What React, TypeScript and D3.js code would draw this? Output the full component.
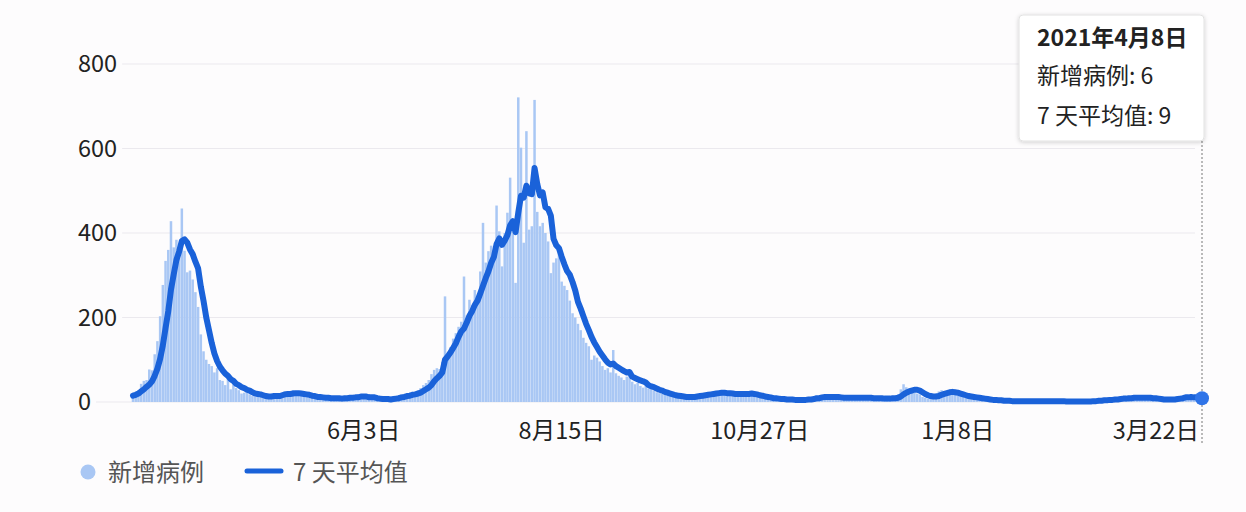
import React, { useEffect, useRef } from 'react';
import * as d3 from 'd3';

// daily new cases, one value per day starting 2020-03-10
const newCases: number[] = [
  20, 21, 27, 43, 50, 52, 77, 75, 113, 144,
  203, 277, 334, 360, 428, 366, 384, 340, 458, 358,
  307, 311, 290, 260, 225, 160, 120, 100, 90, 85,
  70, 80, 52, 50, 40, 55, 30, 42, 33, 28,
  20, 22, 25, 18, 14, 12, 20, 16, 10, 9,
  12, 15, 18, 20, 14, 22, 25, 18, 16, 28,
  22, 17, 14, 16, 12, 10, 15, 12, 8, 11,
  9, 6, 10, 8, 12, 7, 9, 5, 14, 10,
  16, 12, 9, 14, 18, 11, 8, 7, 10, 6,
  5, 8, 4, 6, 9, 7, 12, 10, 16, 18,
  14, 20, 18, 24, 19, 28, 33, 40, 45, 52,
  66, 76, 80, 78, 95, 250, 110, 130, 150, 163,
  178, 190, 297, 205, 242, 230, 265, 250, 309, 424,
  330, 357, 370, 360, 465, 404, 321, 400, 448, 531,
  430, 282, 721, 602, 377, 641, 408, 416, 715, 450,
  416, 424, 400, 380, 305, 330, 340, 370, 285, 275,
  265, 240, 210, 200, 185, 170, 152, 140, 132, 100,
  110, 105, 96, 85, 76, 80, 70, 123, 68, 62,
  58, 52, 60, 75, 48, 42, 45, 38, 34, 40,
  32, 30, 26, 23, 21, 19, 18, 17, 14, 13,
  12, 12, 14, 10, 12, 11, 13, 15, 16, 18,
  20, 17, 22, 19, 24, 21, 23, 25, 20, 18,
  16, 14, 17, 20, 26, 22, 19, 18, 16, 15,
  13, 12, 10, 9, 8, 7, 6, 8, 5, 6,
  7, 5, 4, 6, 5, 4, 7, 5, 6, 8,
  10, 12, 14, 11, 13, 15, 12, 10, 11, 9,
  12, 10, 8, 11, 9, 10, 12, 8, 9, 11,
  10, 8, 9, 7, 10, 8, 9, 7, 8, 10,
  9, 12, 18, 30, 42, 35, 28, 25, 22, 20,
  18, 12, 10, 8, 11, 15, 20, 25, 28, 26,
  22, 24, 20, 18, 15, 14, 12, 10, 9, 12,
  10, 8, 6, 7, 5, 4, 5, 3, 4, 2,
  3, 2, 3, 2, 1, 2, 3, 1, 2, 4,
  3, 2, 1, 2, 3, 1, 2, 3, 2, 1,
  2, 1, 2, 1, 0, 1, 2, 1, 0, 1,
  2, 1, 3, 2, 4, 3, 5, 4, 6, 5,
  7, 8, 6, 9, 10, 8, 11, 9, 10, 12,
  8, 9, 11, 10, 8, 9, 7, 6, 5, 4,
  6, 5, 7, 8, 10, 12, 11, 13, 14, 12,
  10, 8, 7, 9, 6,
];

// 7 天平均值, same days
const avg7: number[] = [
  15, 17, 20, 25, 30, 36, 41, 49, 62, 79,
  102, 134, 175, 215, 266, 302, 336, 356, 381, 385,
  377, 361, 350, 332, 316, 273, 239, 200, 170, 140,
  115, 97, 84, 75, 67, 62, 54, 50, 43, 40,
  35, 33, 29, 27, 23, 20, 19, 18, 16, 14,
  13, 13, 14, 14, 14, 16, 18, 19, 19, 20,
  21, 21, 20, 19, 18, 17, 15, 14, 12, 12,
  11, 10, 10, 9, 9, 9, 9, 8, 9, 9,
  10, 10, 11, 11, 13, 13, 13, 11, 11, 11,
  9, 8, 7, 7, 7, 6, 7, 8, 9, 11,
  12, 14, 15, 17, 18, 20, 22, 26, 30, 34,
  40, 49, 56, 62, 70, 100, 108, 117, 128, 139,
  154, 167, 174, 188, 204, 215, 230, 240, 257, 275,
  293, 309, 329, 343, 374, 387, 372, 382, 395, 418,
  428, 402, 448, 488, 484, 512, 494, 492, 554, 516,
  489, 496, 461, 457, 441, 386, 371, 364, 344, 326,
  310, 301, 284, 264, 237, 221, 203, 185, 170, 154,
  141, 130, 119, 110, 101, 93, 89, 91, 85, 81,
  77, 73, 70, 71, 60, 57, 54, 51, 49, 46,
  40, 37, 35, 32, 29, 27, 24, 22, 20, 18,
  16, 15, 14, 13, 12, 12, 12, 12, 13, 14,
  15, 16, 17, 18, 19, 20, 21, 22, 22, 21,
  21, 20, 19, 19, 19, 19, 19, 19, 20, 19,
  18, 16, 15, 13, 12, 11, 9, 9, 8, 7,
  7, 6, 6, 6, 5, 5, 5, 5, 5, 6,
  6, 7, 9, 9, 11, 12, 12, 12, 12, 12,
  12, 11, 10, 10, 10, 10, 10, 10, 10, 10,
  10, 10, 10, 9, 9, 9, 9, 8, 8, 8,
  9, 9, 10, 13, 18, 22, 25, 27, 29, 29,
  27, 23, 19, 16, 14, 13, 13, 14, 17, 19,
  21, 23, 24, 23, 22, 20, 18, 16, 14, 13,
  12, 11, 10, 9, 8, 7, 6, 5, 5, 4,
  4, 3, 3, 3, 2, 2, 2, 2, 2, 2,
  2, 2, 2, 2, 2, 2, 2, 2, 2, 2,
  2, 2, 2, 2, 1, 1, 1, 1, 1, 1,
  1, 1, 1, 1, 2, 2, 3, 3, 4, 4,
  5, 5, 6, 6, 7, 8, 8, 9, 9, 10,
  10, 10, 10, 10, 10, 10, 9, 9, 8, 7,
  6, 6, 6, 6, 6, 7, 8, 9, 11, 11,
  12, 11, 11, 10, 9,
];

const startDay = '2020-03-10';
const xTickDays = ['2020-06-03', '2020-08-15', '2020-10-27', '2021-01-08', '2021-03-22'];
const yTicks = [0, 200, 400, 600, 800];
const seriesNames = ['新增病例', '7 天平均值'];
const tooltipTitle = '2021年4月8日';

const FONT = "'Noto Sans CJK SC', 'Noto Sans', sans-serif";
const BAR_COLOR = '#a9c7f4';
const LINE_COLOR = '#1a62d9';

const App: React.FC = () => {
  const svgRef = useRef<SVGSVGElement>(null);
  const width = 1246;
  const height = 512;

  useEffect(() => {
    if (!svgRef.current) return;
    d3.select(svgRef.current).selectAll('*').remove();

    const svg = d3.select(svgRef.current);
    const parse = d3.timeParse('%Y-%m-%d');
    const start = parse(startDay) as Date;
    const days = newCases.map((_, i) => d3.timeDay.offset(start, i));
    const end = days[days.length - 1];

    const x = d3.scaleTime().domain([start, end]).range([133, 1202]);
    const y = d3.scaleLinear().domain([0, 800]).range([402, 64]);

    svg.append('rect')
      .attr('width', width)
      .attr('height', height)
      .attr('fill', '#fdfcfd');

    // y grid + labels (grid starts just after each label)
    const yAxis = svg.append('g');
    yTicks.forEach(t => {
      const label = yAxis.append('text')
        .attr('x', 78)
        .attr('y', y(t))
        .attr('dy', '0.35em')
        .attr('font-size', 23.5)
        .attr('fill', '#222')
        .text(t);
      const w = (label.node() as SVGTextElement).getComputedTextLength();
      yAxis.insert('line', 'text')
        .attr('x1', 78 + w + 5)
        .attr('x2', 1195)
        .attr('y1', y(t))
        .attr('y2', y(t))
        .attr('stroke', '#ebe9ee')
        .attr('stroke-width', 1);
    });

    // bars
    const dayW = x(days[1]) - x(days[0]);
    const barW = dayW * 0.92;
    svg.append('g')
      .selectAll('rect')
      .data(newCases)
      .enter()
      .append('rect')
      .attr('x', (_, i) => x(days[i]) - barW / 2)
      .attr('y', d => y(d))
      .attr('width', barW)
      .attr('height', d => y(0) - y(d))
      .attr('fill', BAR_COLOR);

    // x tick labels
    const fmt = (d: Date) => `${d.getMonth() + 1}月${d.getDate()}日`;
    svg.append('g')
      .selectAll('text')
      .data(xTickDays.map(s => parse(s) as Date))
      .enter()
      .append('text')
      .attr('x', d => x(d))
      .attr('y', 439)
      .attr('text-anchor', 'middle')
      .attr('font-size', 23.5)
      .attr('fill', '#222')
      .text(fmt);

    // 7-day average line
    const line = d3.line<number>()
      .x((_, i) => x(days[i]))
      .y(d => y(d))
      .curve(d3.curveLinear);

    svg.append('path')
      .datum(avg7)
      .attr('d', line)
      .attr('fill', 'none')
      .attr('stroke', LINE_COLOR)
      .attr('stroke-width', 6)
      .attr('stroke-linejoin', 'round')
      .attr('stroke-linecap', 'round');

    // hover marker on last day
    const lastX = x(end);
    svg.append('line')
      .attr('x1', lastX)
      .attr('x2', lastX)
      .attr('y1', 141)
      .attr('y2', 445)
      .attr('stroke', '#777')
      .attr('stroke-width', 1)
      .attr('stroke-dasharray', '2,2');

    svg.append('circle')
      .attr('cx', lastX)
      .attr('cy', y(avg7[avg7.length - 1]))
      .attr('r', 7)
      .attr('fill', '#2f74e8');

    // tooltip
    const defs = svg.append('defs');
    const filter = defs.append('filter')
      .attr('id', 'tip-shadow')
      .attr('x', '-20%').attr('y', '-20%')
      .attr('width', '140%').attr('height', '140%');
    filter.append('feDropShadow')
      .attr('dx', 0).attr('dy', 1)
      .attr('stdDeviation', 2)
      .attr('flood-color', '#000')
      .attr('flood-opacity', 0.18);

    const tip = svg.append('g').attr('transform', 'translate(1019,15)');
    tip.append('rect')
      .attr('width', 185)
      .attr('height', 126)
      .attr('rx', 4)
      .attr('fill', '#fff')
      .attr('stroke', '#e2e2e2')
      .attr('filter', 'url(#tip-shadow)');
    tip.append('text')
      .attr('x', 18).attr('y', 31)
      .attr('font-size', 23)
      .attr('font-weight', 'bold')
      .attr('fill', '#222')
      .text(tooltipTitle);
    tip.append('text')
      .attr('x', 18).attr('y', 69)
      .attr('font-size', 23)
      .attr('fill', '#222')
      .text(`${seriesNames[0]}: ${newCases[newCases.length - 1]}`);
    tip.append('text')
      .attr('x', 18).attr('y', 109)
      .attr('font-size', 23)
      .attr('fill', '#222')
      .text(`${seriesNames[1]}: ${avg7[avg7.length - 1]}`);

    // legend
    const legend = svg.append('g');
    legend.append('circle')
      .attr('cx', 88).attr('cy', 472).attr('r', 7.5)
      .attr('fill', BAR_COLOR);
    legend.append('text')
      .attr('x', 108).attr('y', 481)
      .attr('font-size', 24)
      .attr('fill', '#555')
      .text(seriesNames[0]);
    legend.append('line')
      .attr('x1', 247).attr('x2', 281)
      .attr('y1', 471).attr('y2', 471)
      .attr('stroke', LINE_COLOR)
      .attr('stroke-width', 5)
      .attr('stroke-linecap', 'round');
    legend.append('text')
      .attr('x', 293).attr('y', 481)
      .attr('font-size', 24)
      .attr('fill', '#555')
      .text(seriesNames[1]);
  }, []);

  return (
    <svg
      ref={svgRef}
      width={width}
      height={height}
      style={{ position: 'absolute', left: 0, top: 0, fontFamily: FONT }}
    />
  );
};

export default App;
